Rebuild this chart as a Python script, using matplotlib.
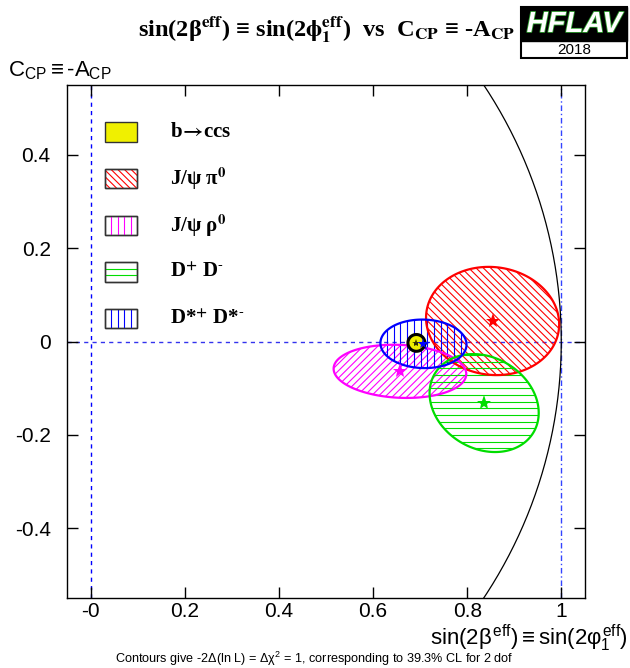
import numpy as np
import matplotlib
matplotlib.use('agg')
from matplotlib import pyplot as plt
from matplotlib.patches import Polygon, Rectangle
from matplotlib.collections import LineCollection
import matplotlib.patheffects as pe

plt.rcParams['font.family'] = ['Liberation Sans', 'DejaVu Sans']
plt.rcParams['mathtext.fontset'] = 'custom'
plt.rcParams['mathtext.rm'] = 'Liberation Sans'
plt.rcParams['mathtext.it'] = 'Liberation Sans'
plt.rcParams['mathtext.bf'] = 'Liberation Sans:bold'
plt.rcParams['mathtext.fallback'] = 'stixsans'

# measurements: centre, half widths (1 sigma) and correlation
names = [r'b$\!\mathbf{\rightarrow}\!$ccs', r'J/ψ π$^{\mathbf{0}}$', r'J/ψ ρ$^{\mathbf{0}}$',
         r'D$^{\mathbf{+}}$ D$^{\mathbf{\text{-}}}$',
         r'D*$^{\mathbf{+}}$ D*$^{\mathbf{\text{-}}}$']
colors = ['#f0f000', '#ff0000', '#ff00ff', '#00dd00', '#0000ff']
hatches = ['', 'd', 'u', 'h', 'v']
legend_hatches = ['', 'd', 'v', 'h2', 'v']
cx = [0.692, 0.854, 0.657, 0.836, 0.707]
cy = [-0.003, 0.044, -0.064, -0.132, -0.005]
sx = [0.018, 0.1415, 0.141, 0.116, 0.0915]
sy = [0.018, 0.116, 0.057, 0.105, 0.052]
rho = [0.0, -0.06, -0.1, -0.2, -0.03]

xticks = [0, 0.2, 0.4, 0.6, 0.8, 1]
xticklabels = ['-0', '0.2', '0.4', '0.6', '0.8', '1']
yticks = [-0.4, -0.2, 0, 0.2, 0.4]
yticklabels = ['-0.4', '-0.2', '0', '0.2', '0.4']

serif_bold = dict(family=['Liberation Serif', 'DejaVu Serif'], weight='bold',
                  math_fontfamily='stix')


def ellipse_xy(x0, y0, ax_, ay_, r, n=300):
    t = np.linspace(0, 2 * np.pi, n)
    x = x0 + ax_ * np.cos(t)
    y = y0 + ay_ * (r * np.cos(t) + np.sqrt(1 - r * r) * np.sin(t))
    return np.column_stack([x, y])


def hatch(ax, clip, kind, color, step=0.0152, lw=0.8, z=2):
    v = clip.get_patch_transform().transform(clip.get_path().vertices)
    x0, x1 = v[:, 0].min() - 0.02, v[:, 0].max() + 0.02
    y0, y1 = v[:, 1].min() - 0.02, v[:, 1].max() + 0.02
    segs = []
    if kind == 'h':
        for y in np.arange(np.floor(y0 / step) * step, y1, step):
            segs.append([(x0, y), (x1, y)])
    elif kind == 'h2':
        for y in np.arange(v[:, 1].min() + step, v[:, 1].max() - step / 2, step):
            segs.append([(x0, y), (x1, y)])
    elif kind == 'v':
        for x in np.arange(np.floor(x0 / step) * step, x1, step):
            segs.append([(x, y0), (x, y1)])
    elif kind == 'd':
        for c in np.arange(np.floor((x0 + y0) / step) * step, x1 + y1, step):
            segs.append([(x0, c - x0), (x1, c - x1)])
    elif kind == 'u':
        for c in np.arange(np.floor((y0 - x1) / step) * step, y1 - x0, step):
            segs.append([(x0, x0 + c), (x1, x1 + c)])
    lc = LineCollection(segs, colors=color, linewidths=lw, zorder=z)
    ax.add_collection(lc)
    lc.set_clip_path(clip)


fig = plt.figure(figsize=(6.3, 6.68), dpi=100)
ax = fig.add_axes([67.4 / 630, 1 - 598 / 668, 517.4 / 630, 513 / 668])
ax.set_xlim(-0.05, 1.05)
ax.set_ylim(-0.55, 0.55)

# reference lines
ax.axvline(0, color='#0000ff', lw=1, ls=(0, (3, 3)), zorder=1)
ax.axvline(1, color='#3344ff', lw=1, ls=(0, (4, 2, 1, 2)), zorder=1)
ax.axhline(0, color='#3333ee', lw=1, ls=(0, (3, 3)), zorder=1)
th = np.linspace(-np.pi / 2, np.pi / 2, 400)
ax.plot(np.cos(th), np.sin(th), color='black', lw=0.9, zorder=1)

# contours
for i in [1, 2, 3, 4]:
    pts = ellipse_xy(cx[i], cy[i], sx[i], sy[i], rho[i])
    clip = Polygon(pts, closed=True, facecolor='none', edgecolor='none')
    ax.add_patch(clip)
    step = 0.0143 if hatches[i] in ('h', 'v') else 0.0155
    hatch(ax, clip, hatches[i], colors[i], step=step)
    ax.add_patch(Polygon(pts, closed=True, fill=False, edgecolor=colors[i],
                         lw=1.6, zorder=3))
    ax.plot(cx[i], cy[i], marker='*', color=colors[i], ms=11, mew=0, zorder=4)

pts = ellipse_xy(cx[0], cy[0], sx[0], sy[0], rho[0])
ax.add_patch(Polygon(pts, closed=True, facecolor=colors[0], edgecolor='black',
                     lw=2.2, zorder=5))
ax.plot(cx[0], cy[0], marker='*', color='#333300', ms=6, mew=0, zorder=6)
ax.plot(cx[4], cy[4], marker='*', color=colors[4], ms=8, mew=0, zorder=6)

# legend
bw, bh = 0.069, 0.0415
for k in range(5):
    yc = 0.449 - 0.1 * k
    box = Rectangle((0.0298, yc - bh / 2), bw, bh,
                    facecolor=colors[k] if k == 0 else 'white',
                    edgecolor='#333333', lw=1.0, zorder=5)
    ax.add_patch(box)
    if k > 0:
        hk = legend_hatches[k]
        step = 0.0142 if hk != 'h2' else bh / 3
        hatch(ax, box, hk, colors[k], step=step, z=6)
        ax.add_patch(Rectangle((0.0298, yc - bh / 2), bw, bh, fill=False,
                               edgecolor='#333333', lw=1.0, zorder=7))
    ax.text(0.168, yc, names[k], fontsize=15, va='center', ha='left',
            zorder=7, **serif_bold)

ax.set_xticks(xticks)
ax.set_xticklabels(xticklabels)
ax.set_yticks(yticks)
ax.set_yticklabels(yticklabels)
ax.tick_params(direction='in', length=8, width=1, top=True, right=True,
               labelsize=15)
ax.tick_params(axis='x', pad=3)
ax.tick_params(axis='y', pad=12)
for s in ax.spines.values():
    s.set_linewidth(1.0)

# titles and labels
fig.text(138 / 630, 1 - 30 / 668,
         r'sin(2β$^{\mathbf{eff}}$) ≡ sin(2$\mathbf{\phi}_{\mathbf{1}}^{\mathbf{eff}}$)  vs  '
         r'C$_{\mathbf{CP}}$ ≡ -A$_{\mathbf{CP}}$',
         fontsize=17.6, ha='left', va='center', **serif_bold)
fig.text(8 / 630, 1 - 76 / 668, r'$C_{CP} \equiv \text{-}A_{CP}$',
         fontsize=16, ha='left', va='baseline')
fig.text(628 / 630, 1 - 645 / 668,
         r'$\sin(2\beta^{eff}) \equiv \sin(2\varphi_{1}^{eff})$',
         fontsize=16, ha='right', va='baseline')
fig.text(314 / 630, 1 - 659 / 668,
         r'Contours give -2$\Delta$(ln L) = $\Delta\chi^{2}$ = 1, corresponding to 39.3% CL for 2 dof',
         fontsize=9.1, ha='center', va='center')

# logo
fig.add_artist(Rectangle((521 / 630, 1 - 58 / 668), 106 / 630, 51 / 668,
                         transform=fig.transFigure, facecolor='white',
                         edgecolor='black', lw=1.5))
fig.add_artist(Rectangle((521 / 630, 1 - 41 / 668), 106 / 630, 34 / 668,
                         transform=fig.transFigure, facecolor='black',
                         edgecolor='black', lw=1.0))
fig.text(574 / 630, 1 - 24 / 668, 'HFLAV', fontsize=21, fontweight='bold',
         fontstyle='italic', color='white', ha='center', va='center',
         path_effects=[pe.withStroke(linewidth=1.2, foreground='#30a030')])
fig.text(574 / 630, 1 - 50 / 668, '2018', fontsize=11, color='black',
         ha='center', va='center')

fig.savefig('out.png', dpi=100)
